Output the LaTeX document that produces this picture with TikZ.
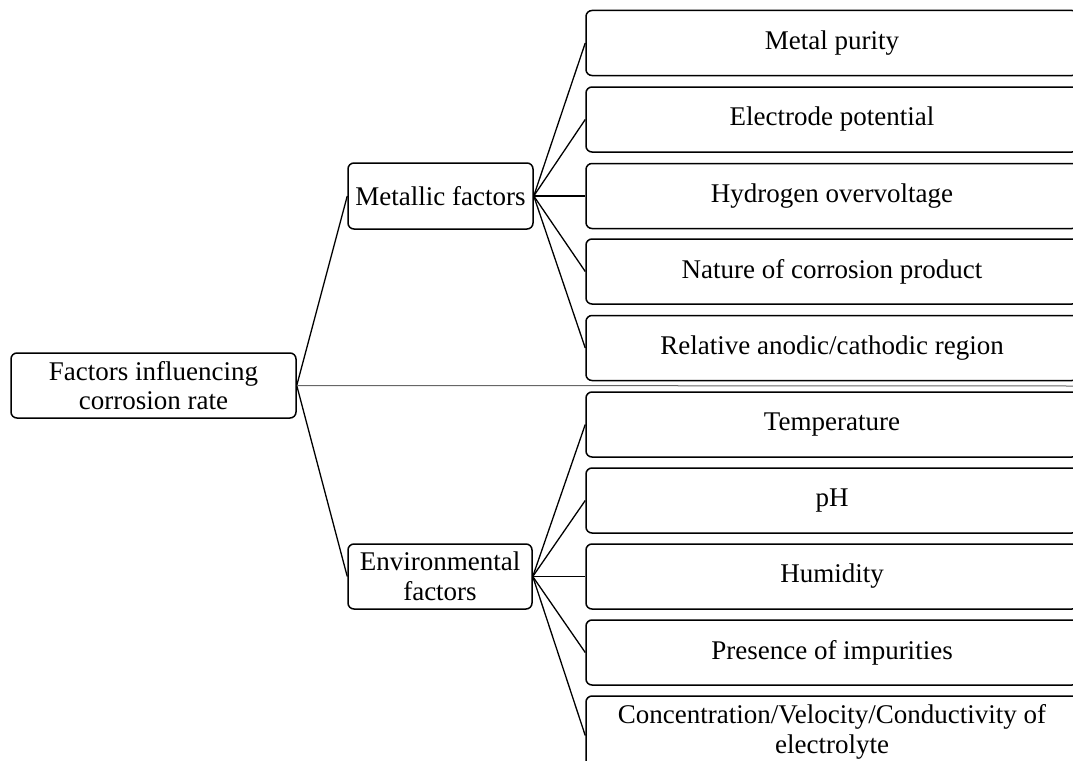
\documentclass[tikz,border=0pt]{standalone}
\usepackage{fontspec}
\setmainfont{Liberation Serif}
\usepackage{tikz}
\usetikzlibrary{positioning}

\tikzset{
	box/.style={draw, rounded corners=6pt, line width=1.5pt, align=center, inner sep=0pt,
		font=\fontsize{27}{29.5}\selectfont},
	leaf/.style={box, minimum width=492pt, minimum height=65pt},
}

\begin{document}
\begin{tikzpicture}[x=1pt,y=-1pt]
		\useasboundingbox (0,0) rectangle (1073,760);
		\clip (0,0) rectangle (1073,760);
		% root and branches
		\node[box, minimum width=285pt, minimum height=65pt] (R) at (153.5,385.5) {Factors influencing\\corrosion rate};
		\node[box, minimum width=185pt, minimum height=66pt] (M) at (440.5,196) {Metallic factors};
		\node[box, minimum width=184pt, minimum height=65pt] (E) at (440,576.5) {Environmental\\factors};
		\coordinate (X) at (1073,386);
		% metallic leaves
		\node[leaf] (M1) at (832,43) {Metal purity};
		\node[leaf] (M2) at (832,119.5) {Electrode potential};
		\node[leaf] (M3) at (832,196) {Hydrogen overvoltage};
		\node[leaf] (M4) at (832,271.5) {Nature of corrosion product};
		\node[leaf] (M5) at (832,348) {Relative anodic/cathodic region};
		% environmental leaves
		\node[leaf] (E1) at (832,424.5) {Temperature};
		\node[leaf] (E2) at (832,500.5) {pH};
		\node[leaf] (E3) at (832,576.5) {Humidity};
		\node[leaf] (E4) at (832,652.5) {Presence of impurities};
		\node[leaf, minimum height=72pt] (E5) at (832,732) {Concentration/Velocity/Conductivity of\\electrolyte};
		%
		\path[line width=1.3pt]
		% root to branches
		(R.east) edge (M.west)
		(R.east) edge (E.west)
		% metallic
		(M.east) edge (M1.west)
		(M.east) edge (M2.west)
		(M.east) edge (M3.west)
		(M.east) edge (M4.west)
		(M.east) edge (M5.west)
		% environmental
		(E.east) edge (E1.west)
		(E.east) edge (E2.west)
		(E.east) edge (E3.west)
		(E.east) edge (E4.west)
		(E.east) edge ([yshift=-3.5pt]E5.west);
		\draw[black!60, line width=1pt] (R.east) -- (X);
\end{tikzpicture}
\end{document}
